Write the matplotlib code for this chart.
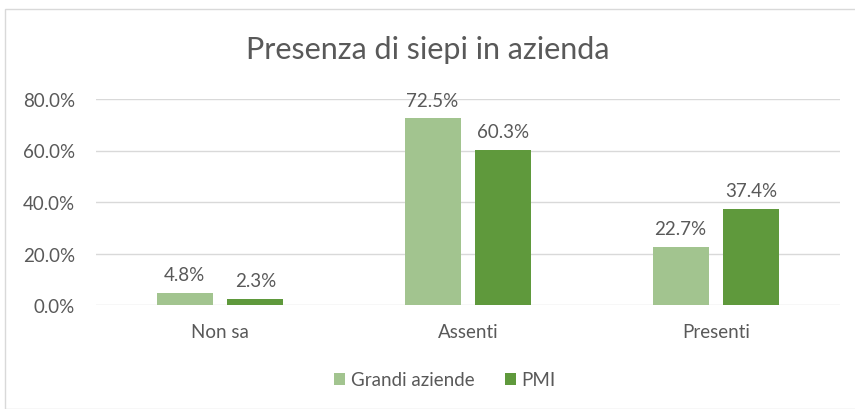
import matplotlib

matplotlib.use("Agg")
import matplotlib.pyplot as plt  # noqa: E402
import numpy as np  # noqa: E402
from matplotlib.patches import Rectangle  # noqa: E402

categories = ["Non sa", "Assenti", "Presenti"]
grandi = [0.048, 0.725, 0.227]
pmi = [0.023, 0.603, 0.374]
series_names = ["Grandi aziende", "PMI"]
yticks = [0.0, 0.2, 0.4, 0.6, 0.8]

LIGHT = "#A2C48F"
DARK = "#5F993C"
TEXT = "#595959"
GRID = "#D9D9D9"
FS = 13.5

plt.rcParams["font.family"] = ["Lato", "DejaVu Sans"]

fig = plt.figure(figsize=(8.55, 4.1), dpi=100)
ax = fig.add_axes([96 / 855, 1 - 306 / 410, (840 - 96) / 855, (306 - 100) / 410])

x = np.arange(len(categories))
w = 0.226
gap = 0.06
off = (w + gap) / 2
b1 = ax.bar(x - off, grandi, w, color=LIGHT, label=series_names[0])
b2 = ax.bar(x + off, pmi, w, color=DARK, label=series_names[1])

for bars, vals in ((b1, grandi), (b2, pmi)):
    for r, v in zip(bars, vals):
        ax.annotate(f"{v * 100:.1f}%", (r.get_x() + r.get_width() / 2, v),
                    xytext=(0, 7), textcoords="offset points",
                    ha="center", va="bottom", fontsize=FS, color=TEXT)

ax.set_xlim(-0.5, len(categories) - 0.5)
ax.set_ylim(0, 0.8)
ax.set_yticks(yticks)
ax.set_yticklabels([f"{t * 100:.1f}%" for t in yticks])
ax.set_xticks(x)
ax.set_xticklabels(categories)
ax.tick_params(axis="both", length=0, labelsize=FS, labelcolor=TEXT)
ax.tick_params(axis="y", pad=15)
ax.tick_params(axis="x", pad=13)
ax.yaxis.grid(True, color=GRID, linewidth=1)
ax.set_axisbelow(True)
for s in ax.spines.values():
    s.set_visible(False)

fig.text(0.5, 1 - 50 / 410, "Presenza di siepi in azienda", ha="center", va="center",
         fontsize=22, color=TEXT)

ax.legend(loc="center", bbox_to_anchor=((445 - 96) / 744, (306 - 381) / 206), ncol=2,
          frameon=False, fontsize=FS, labelcolor=TEXT, handlelength=0.6, handleheight=0.6,
          columnspacing=1.6, handletextpad=0.3)

fig.patches.append(Rectangle((5 / 855, 0), 1, 1 - 10 / 410, transform=fig.transFigure,
                             fill=False, edgecolor=GRID, linewidth=1))

fig.savefig("out.png", dpi=100)
